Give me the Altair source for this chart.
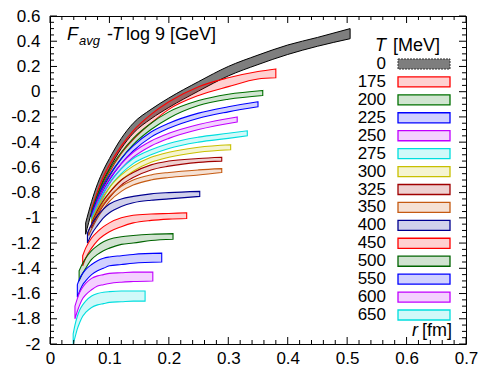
import altair as alt
import pandas as pd

# ---------------- data ----------------
temps = ["0", "175", "200", "225", "250", "275", "300", "325", "350",
         "400", "450", "500", "550", "600", "650"]
colors = ["#888888", "#ff0000", "#007000", "#0000ff", "#c000ff", "#00dede",
          "#c8c000", "#a00000", "#c55a11", "#000090", "#ff0000", "#006400",
          "#0000ff", "#c000ff", "#00dede"]

r_0 = [0.060, 0.070, 0.080, 0.090, 0.100, 0.120, 0.140, 0.170, 0.200, 0.250, 0.300, 0.350, 0.400, 0.450, 0.505]
up_0 = [-1.04, -0.87, -0.73, -0.62, -0.53, -0.37, -0.25, -0.14, -0.05, 0.08, 0.20, 0.29, 0.37, 0.43, 0.50]
lo_0 = [-1.13, -0.955, -0.815, -0.70, -0.61, -0.45, -0.33, -0.215, -0.125, 0.005, 0.125, 0.215, 0.295, 0.36, 0.42]

r_175 = [0.070, 0.080, 0.090, 0.100, 0.120, 0.140, 0.170, 0.200, 0.250, 0.300, 0.350, 0.380]
up_175 = [-0.93, -0.79, -0.67, -0.58, -0.43, -0.31, -0.18, -0.08, 0.04, 0.11, 0.16, 0.18]
lo_175 = [-0.98, -0.84, -0.73, -0.64, -0.49, -0.38, -0.25, -0.14, -0.03, 0.04, 0.10, 0.11]

r_200 = [0.070, 0.080, 0.090, 0.100, 0.120, 0.140, 0.170, 0.200, 0.250, 0.300, 0.358]
up_200 = [-0.95, -0.82, -0.71, -0.62, -0.48, -0.37, -0.25, -0.16, -0.07, -0.02, 0.01]
lo_200 = [-1.00, -0.87, -0.76, -0.67, -0.53, -0.42, -0.30, -0.21, -0.11, -0.06, -0.03]

r_225 = [0.070, 0.080, 0.090, 0.100, 0.120, 0.140, 0.170, 0.200, 0.250, 0.300, 0.350]
up_225 = [-0.97, -0.84, -0.74, -0.66, -0.53, -0.43, -0.32, -0.25, -0.17, -0.12, -0.08]
lo_225 = [-1.01, -0.88, -0.78, -0.70, -0.57, -0.47, -0.36, -0.29, -0.21, -0.16, -0.12]

r_250 = [0.070, 0.080, 0.090, 0.100, 0.120, 0.140, 0.170, 0.200, 0.250, 0.315]
up_250 = [-0.99, -0.87, -0.77, -0.69, -0.57, -0.48, -0.39, -0.33, -0.26, -0.20]
lo_250 = [-1.03, -0.91, -0.81, -0.73, -0.61, -0.52, -0.43, -0.37, -0.30, -0.24]

r_275 = [0.070, 0.080, 0.090, 0.100, 0.120, 0.140, 0.170, 0.200, 0.250, 0.300, 0.332]
up_275 = [-1.00, -0.89, -0.80, -0.72, -0.61, -0.53, -0.46, -0.41, -0.36, -0.33, -0.31]
lo_275 = [-1.04, -0.93, -0.84, -0.76, -0.65, -0.57, -0.50, -0.45, -0.40, -0.37, -0.35]

r_300 = [0.070, 0.080, 0.090, 0.100, 0.120, 0.140, 0.170, 0.200, 0.250, 0.304]
up_300 = [-1.02, -0.92, -0.83, -0.76, -0.66, -0.59, -0.52, -0.48, -0.44, -0.42]
lo_300 = [-1.06, -0.96, -0.87, -0.80, -0.70, -0.63, -0.56, -0.52, -0.48, -0.46]

r_325 = [0.070, 0.080, 0.090, 0.100, 0.120, 0.140, 0.170, 0.200, 0.250, 0.289]
up_325 = [-1.04, -0.94, -0.86, -0.80, -0.70, -0.64, -0.58, -0.55, -0.53, -0.52]
lo_325 = [-1.08, -0.98, -0.90, -0.84, -0.74, -0.68, -0.62, -0.59, -0.56, -0.55]

r_350 = [0.065, 0.070, 0.080, 0.090, 0.100, 0.120, 0.140, 0.170, 0.200, 0.250, 0.289]
up_350 = [-1.10, -1.05, -0.96, -0.89, -0.83, -0.75, -0.70, -0.66, -0.64, -0.62, -0.61]
lo_350 = [-1.14, -1.09, -1.00, -0.93, -0.87, -0.79, -0.74, -0.70, -0.68, -0.66, -0.64]

r_400 = [0.063, 0.070, 0.080, 0.090, 0.100, 0.120, 0.140, 0.170, 0.200, 0.252]
up_400 = [-1.12, -1.05, -0.98, -0.93, -0.89, -0.85, -0.83, -0.81, -0.80, -0.79]
lo_400 = [-1.20, -1.13, -1.06, -1.00, -0.96, -0.91, -0.88, -0.86, -0.85, -0.83]

r_450 = [0.055, 0.060, 0.070, 0.080, 0.090, 0.100, 0.120, 0.140, 0.170, 0.200, 0.230]
up_450 = [-1.30, -1.24, -1.16, -1.11, -1.07, -1.04, -1.00, -0.98, -0.97, -0.965, -0.96]
lo_450 = [-1.38, -1.32, -1.24, -1.18, -1.14, -1.11, -1.07, -1.04, -1.02, -1.01, -1.005]

r_500 = [0.049, 0.055, 0.060, 0.070, 0.080, 0.090, 0.100, 0.120, 0.140, 0.170, 0.207]
up_500 = [-1.42, -1.36, -1.32, -1.26, -1.22, -1.19, -1.17, -1.15, -1.14, -1.13, -1.125]
lo_500 = [-1.50, -1.44, -1.40, -1.33, -1.29, -1.26, -1.24, -1.21, -1.20, -1.18, -1.17]

r_550 = [0.046, 0.050, 0.055, 0.060, 0.070, 0.080, 0.090, 0.100, 0.120, 0.140, 0.188]
up_550 = [-1.53, -1.48, -1.44, -1.41, -1.37, -1.34, -1.32, -1.31, -1.30, -1.29, -1.28]
lo_550 = [-1.63, -1.58, -1.53, -1.50, -1.45, -1.42, -1.40, -1.38, -1.37, -1.36, -1.35]

r_600 = [0.042, 0.046, 0.050, 0.055, 0.060, 0.070, 0.080, 0.090, 0.100, 0.120, 0.140, 0.173]
up_600 = [-1.70, -1.64, -1.59, -1.55, -1.52, -1.48, -1.46, -1.45, -1.44, -1.435, -1.43, -1.43]
lo_600 = [-1.80, -1.74, -1.69, -1.64, -1.61, -1.57, -1.54, -1.53, -1.52, -1.51, -1.505, -1.50]

r_650 = [0.039, 0.042, 0.046, 0.050, 0.055, 0.060, 0.070, 0.080, 0.090, 0.100, 0.120, 0.140, 0.160]
up_650 = [-1.92, -1.85, -1.78, -1.73, -1.69, -1.66, -1.62, -1.60, -1.59, -1.585, -1.58, -1.58, -1.58]
lo_650 = [-2.00, -1.95, -1.88, -1.83, -1.78, -1.75, -1.71, -1.69, -1.68, -1.67, -1.665, -1.66, -1.66]

x_major = [0.0, 0.1, 0.2, 0.3, 0.4, 0.5, 0.6, 0.7]
y_major = [-2.0, -1.8, -1.6, -1.4, -1.2, -1.0, -0.8, -0.6, -0.4, -0.2, 0.0, 0.2, 0.4, 0.6]

# ---------------- tables ----------------
bands = {
    "0": (r_0, up_0, lo_0), "175": (r_175, up_175, lo_175), "200": (r_200, up_200, lo_200),
    "225": (r_225, up_225, lo_225), "250": (r_250, up_250, lo_250), "275": (r_275, up_275, lo_275),
    "300": (r_300, up_300, lo_300), "325": (r_325, up_325, lo_325), "350": (r_350, up_350, lo_350),
    "400": (r_400, up_400, lo_400), "450": (r_450, up_450, lo_450), "500": (r_500, up_500, lo_500),
    "550": (r_550, up_550, lo_550), "600": (r_600, up_600, lo_600), "650": (r_650, up_650, lo_650),
}
rows = []
for t in temps:
    rr, uu, ll = bands[t]
    for a, b, c in zip(rr, uu, ll):
        rows.append({"T": t, "r": a, "up": b, "lo": c})
df = pd.DataFrame(rows)

x_minor = [round(i * 0.02, 2) for i in range(36) if i % 5 != 0]
y_minor = [round(-2 + i * 0.05, 2) for i in range(53) if i % 4 != 0]
dfxM = pd.DataFrame({"v": x_major})
dfxm = pd.DataFrame({"v": x_minor})
dfyM = pd.DataFrame({"v": y_major})
dfym = pd.DataFrame({"v": y_minor})

W, H = 416, 328
FONT = "Liberation Sans"
xs = alt.Scale(domain=[0, 0.7], nice=False, zero=False)
ys = alt.Scale(domain=[-2, 0.6], nice=False, zero=False)
cscale = alt.Scale(domain=temps[1:], range=colors[1:])

gray = alt.Chart(df[df["T"] == "0"]).mark_area(
    interpolate="monotone", fill="#7e7e7e", stroke="black", strokeWidth=1, clip=True
).encode(
    x=alt.X("r:Q", scale=xs, axis=alt.Axis(values=x_major, labelExpr="'' + datum.value",
                                           labelPadding=6, labelFlush=False, title=None)),
    y=alt.Y("lo:Q", scale=ys, axis=alt.Axis(values=y_major, labelExpr="'' + datum.value",
                                            labelPadding=10, title=None)),
    y2="up:Q",
)

colored = alt.Chart(df[df["T"] != "0"]).mark_area(
    interpolate="monotone", fillOpacity=0.18, strokeWidth=1.1, clip=True
).encode(
    x=alt.X("r:Q", scale=xs, axis=None),
    y=alt.Y("lo:Q", scale=ys, axis=None),
    y2="up:Q",
    fill=alt.Fill("T:N", scale=cscale, legend=None),
    stroke=alt.Stroke("T:N", scale=cscale, legend=None),
    detail="T:N",
)


def xticks(d, L):
    bot = alt.Chart(d).mark_rule(color="black", strokeWidth=1).encode(
        x=alt.X("v:Q", scale=xs, axis=None), y=alt.value(H), y2=alt.value(H - L))
    top = alt.Chart(d).mark_rule(color="black", strokeWidth=1).encode(
        x=alt.X("v:Q", scale=xs, axis=None), y=alt.value(0), y2=alt.value(L))
    return [bot, top]


def yticks(d, L):
    left = alt.Chart(d).mark_rule(color="black", strokeWidth=1).encode(
        y=alt.Y("v:Q", scale=ys, axis=None), x=alt.value(0), x2=alt.value(L))
    right = alt.Chart(d).mark_rule(color="black", strokeWidth=1).encode(
        y=alt.Y("v:Q", scale=ys, axis=None), x=alt.value(W), x2=alt.value(W - L))
    return [left, right]


# legend
leg = pd.DataFrame({"T": temps, "row": list(range(len(temps)))})
leg["top"] = leg["row"] - 0.28
leg["bot"] = leg["row"] + 0.28
lscale = alt.Scale(domain=[0, 14], range=[48, 299])
lab = alt.Chart(leg).mark_text(align="right", baseline="middle", font=FONT, fontSize=17, color="black").encode(
    x=alt.value(336), y=alt.Y("row:Q", scale=lscale, axis=None), text="T:N")
sw_c = alt.Chart(leg[leg["T"] != "0"]).mark_rect(fillOpacity=0.18, strokeWidth=1.3).encode(
    x=alt.value(348), x2=alt.value(400),
    y=alt.Y("top:Q", scale=lscale, axis=None), y2="bot:Q",
    fill=alt.Fill("T:N", scale=cscale, legend=None),
    stroke=alt.Stroke("T:N", scale=cscale, legend=None))
sw_g = alt.Chart(leg[leg["T"] == "0"]).mark_rect(fill="#7e7e7e", stroke="#333333", strokeWidth=1,
                                                 strokeDash=[2, 1]).encode(
    x=alt.value(348), x2=alt.value(400),
    y=alt.Y("top:Q", scale=lscale, axis=None), y2="bot:Q")


def txt(s, x, y, size=18, italic=False, align="left", baseline="alphabetic"):
    return alt.Chart(pd.DataFrame({"t": [s]})).mark_text(
        align=align, baseline=baseline, font=FONT, fontSize=size,
        fontStyle="italic" if italic else "normal", color="black"
    ).encode(x=alt.value(x), y=alt.value(y), text="t:N")


texts = [
    txt("F", 17, 24, 18, True),
    txt("avg", 29, 29, 13, True),
    txt("-", 57, 24, 18),
    txt("T", 62, 24, 18, True),
    txt("log 9 [GeV]", 76, 24, 18),
    txt("T", 325, 35, 18, True),
    txt("[MeV]", 343, 35, 18),
    txt("r", 362, 320, 18, True),
    txt("[fm]", 372, 320, 18),
]

chart = alt.layer(
    gray, colored, *xticks(dfxM, 7), *xticks(dfxm, 4), *yticks(dfyM, 7), *yticks(dfym, 4),
    sw_g, sw_c, lab, *texts
).resolve_scale(y="independent", x="independent").properties(
    width=W, height=H,
    autosize=alt.AutoSizeParams(type="none"),
    padding={"left": 42, "top": 8, "right": 12, "bottom": 23},
).configure_view(stroke="black", strokeWidth=1).configure_axis(
    domain=False, ticks=False, tickSize=0, grid=False, labelFont=FONT, labelFontSize=17,
    labelColor="black"
)

chart.save("out.html", embed_options={"renderer": "svg", "actions": False})
